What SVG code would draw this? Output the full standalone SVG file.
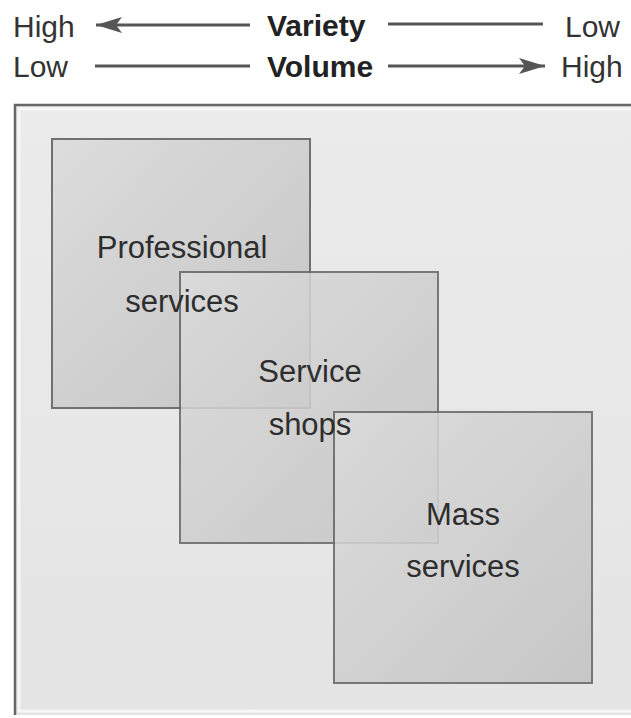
<svg xmlns="http://www.w3.org/2000/svg" width="631" height="718" viewBox="0 0 631 718">
  <defs>
    <style>
      .lbl { font-family: "Liberation Sans", Arial, sans-serif; font-size: 30px; fill: #333; }
      .bold { font-weight: bold; fill: #222; }
      .axis { stroke: #555; stroke-width: 3; fill: none; }
      .sq { stroke: #666; stroke-width: 2; fill: url(#sqgrad); }
      .sqtxt { font-family: "Liberation Sans", Arial, sans-serif; font-size: 31px; fill: #2e2e2e; text-anchor: middle; }
    </style>
    <linearGradient id="sqgrad" x1="0" y1="0" x2="1" y2="1">
      <stop offset="0" stop-color="#dcdcdc"/>
      <stop offset="1" stop-color="#c2c2c2"/>
    </linearGradient>
    <linearGradient id="framegrad" x1="0" y1="0" x2="0" y2="1">
      <stop offset="0" stop-color="#ebebeb"/>
      <stop offset="1" stop-color="#e4e4e4"/>
    </linearGradient>
    <marker id="arr" viewBox="0 0 28 16" refX="26" refY="8" markerWidth="28" markerHeight="16" markerUnits="userSpaceOnUse" orient="auto-start-reverse">
      <path d="M26,8 L0,0 L6,8 L0,16 Z" fill="#555"/>
    </marker>
  </defs>

  <rect width="631" height="718" fill="#ffffff"/>

  <g id="header">
    <text class="lbl" x="13" y="37">High</text>
    <text class="lbl bold" x="267" y="36">Variety</text>
    <text class="lbl" x="565" y="37">Low</text>
    <text class="lbl" x="13" y="77">Low</text>
    <text class="lbl bold" x="267" y="77">Volume</text>
    <text class="lbl" x="561" y="77">High</text>
  </g>

  <g id="connectors">
    <line class="axis" x1="250" y1="25" x2="96" y2="25" marker-end="url(#arr)"/>
    <line class="axis" x1="388" y1="24" x2="543" y2="24"/>
    <line class="axis" x1="95" y1="66" x2="250" y2="66"/>
    <line class="axis" x1="388" y1="66" x2="545" y2="66" marker-end="url(#arr)"/>
  </g>

  <g id="frame">
    <rect x="15" y="105" width="630" height="610" fill="url(#framegrad)"/>
    <rect x="19" y="109" width="620" height="602" fill="none" stroke="#f6f6f6" stroke-width="3"/>
    <path d="M15,715 L15,105 L640,105" fill="none" stroke="#666" stroke-width="2.5"/>
  </g>

  <g id="professional">
    <rect class="sq" x="52" y="139" width="258" height="269" opacity="0.92"/>
  </g>

  <g id="service-shops">
    <rect class="sq" x="180" y="272" width="258" height="271" opacity="0.86"/>
  </g>

  <g id="mass">
    <rect class="sq" x="334" y="412" width="258" height="271" opacity="0.86"/>
  </g>

  <g id="labels">
    <g id="professional-label">
      <text class="sqtxt" x="182" y="258">Professional</text>
      <text class="sqtxt" x="182" y="312">services</text>
    </g>
    <g id="service-shops-label">
      <text class="sqtxt" x="310" y="382">Service</text>
      <text class="sqtxt" x="310" y="435">shops</text>
    </g>
    <g id="mass-label">
      <text class="sqtxt" x="463" y="525">Mass</text>
      <text class="sqtxt" x="463" y="577">services</text>
    </g>
  </g>
</svg>
